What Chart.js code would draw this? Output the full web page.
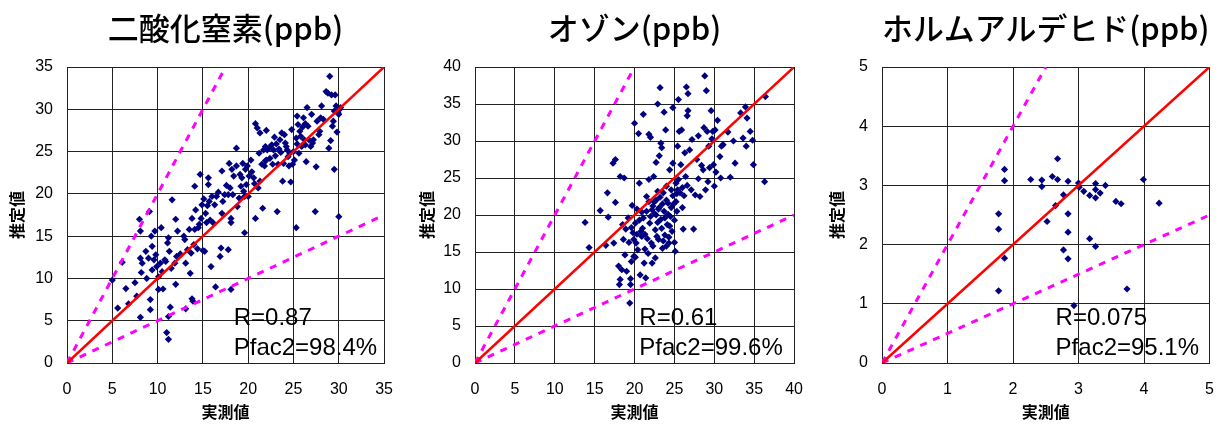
<!DOCTYPE html>
<html>
<head>
<meta charset="utf-8">
<script src="https://cdn.jsdelivr.net/npm/chart.js@4.4.0/dist/chart.umd.min.js"></script>
<style>
  html, body { margin: 0; padding: 0; background: #fff; }
  #wrap { position: relative; width: 1231px; height: 424px; overflow: hidden; }
  canvas { position: absolute; top: 0; }
</style>
</head>
<body>
<div id="wrap">
  <canvas id="no2" width="410" height="424" style="left:0"></canvas>
  <canvas id="o3" width="410" height="424" style="left:410px"></canvas>
  <canvas id="hcho" width="411" height="424" style="left:820px"></canvas>
</div>
<script>
// ---- data (measured x, estimated y) ----
const titles = ['二酸化窒素(ppb)', 'オゾン(ppb)', 'ホルムアルデヒド(ppb)'];
const rText = ['R=0.87', 'R=0.61', 'R=0.075'];
const pfacText = ['Pfac2=98.4%', 'Pfac2=99.6%', 'Pfac2=95.1%'];
const axisMax = [35, 40, 5];
const axisStep = [5, 5, 1];
const statsX = [18.4, 20.6, 2.65];

const no2Points = [
  [5.0,9.8],[5.6,6.5],[6.1,11.9],[6.5,8.8],[6.8,7.0],[7.5,9.5],[7.7,7.9],[8.0,17.0],[8.1,15.6],[8.1,12.4],
  [8.2,10.7],[8.1,5.4],[8.3,11.8],[8.7,13.2],[8.8,10.0],[9.0,12.4],[9.1,17.9],[9.2,7.5],[9.2,6.3],[9.3,15.0],
  [9.4,13.8],[9.4,11.0],[9.6,12.2],[9.7,15.6],[9.9,11.4],[10.1,10.2],[10.1,8.7],[10.3,11.8],[10.4,16.0],[10.5,10.8],
  [10.6,8.75],[10.8,12.2],[11.0,3.6],[11.2,2.8],[11.2,5.5],[11.1,14.2],[11.2,14.8],[11.3,13.2],[11.4,6.6],[11.6,19.3],
  [11.5,11.2],[11.9,11.8],[12.0,9.3],[12.0,17.0],[12.1,12.6],[12.2,15.6],[12.9,15.0],[13.1,11.8],[13.1,6.4],[13.3,13.4],
  [13.5,15.8],[13.6,10.6],[13.7,13.0],[13.8,7.6],[13.8,17.1],[13.9,7.3],[14.0,14.0],[14.1,15.8],[14.1,20.9],[14.2,18.1],
  [14.4,13.5],[14.6,16.4],[14.7,22.3],[14.8,17.1],[14.9,18.7],[15.0,13.3],[15.1,19.4],[15.2,13.2],[15.3,17.7],[15.4,16.6],
  [15.6,21.9],[15.6,21.1],[15.7,19.1],[15.8,16.9],[15.9,11.4],[16.0,19.7],[16.1,16.6],[16.3,18.7],[16.4,9.0],[16.5,19.7],
  [16.9,12.6],[17.0,13.6],[17.1,17.7],[17.1,22.7],[17.2,19.1],[17.4,19.9],[17.8,19.9],[17.8,13.4],[17.9,23.6],[18.0,20.7],
  [18.1,17.1],[18.1,16.6],[18.1,8.7],[18.2,22.9],[18.3,19.9],[18.4,22.1],[18.7,25.4],[18.7,23.3],[18.8,18.5],[19.0,19.5],
  [19.1,22.3],[19.3,21.9],[19.4,23.6],[19.5,20.3],[19.6,15.4],[19.6,19.7],[19.7,22.9],[19.8,21.1],[20.0,19.7],[20.1,22.1],
  [20.3,24.0],[20.6,21.9],[20.8,28.3],[20.8,17.1],[21.0,27.8],[21.1,20.7],[21.3,27.2],[21.3,21.5],[21.5,23.5],[21.6,18.3],
  [21.7,25.2],[21.8,23.3],[21.9,25.6],[22.0,24.0],[22.0,27.5],[22.1,25.2],[22.3,25.4],[22.6,25.8],[22.7,23.5],[22.8,25.2],
  [23.0,24.5],[23.2,17.9],[23.3,23.5],[23.4,25.3],[23.5,26.4],[23.7,27.2],[23.8,21.5],[23.9,23.6],[24.1,26.0],[24.2,25.6],
  [24.4,24.4],[24.5,23.3],[24.6,24.8],[24.7,21.4],[24.8,27.6],[24.9,23.5],[25.0,25.0],[25.1,24.0],[25.3,26.6],[25.3,16.0],
  [25.4,29.2],[25.4,25.9],[25.5,28.2],[25.6,24.8],[25.8,26.8],[25.9,25.6],[26.0,27.9],[26.2,26.4],[26.3,28.3],[26.3,25.8],
  [26.4,23.8],[26.5,30.2],[26.7,26.4],[26.9,25.6],[27.0,29.4],[27.2,26.4],[27.4,17.9],[27.5,23.2],[27.6,28.6],[27.8,27.0],
  [27.9,27.4],[28.1,30.4],[28.3,28.8],[28.6,32.1],[28.8,31.9],[28.9,25.4],[29.0,33.9],[29.1,26.3],[29.2,31.7],[29.3,28.0],
  [29.4,28.6],[29.5,29.8],[29.5,22.9],[29.6,31.7],[29.7,30.4],[29.8,27.3],[29.9,29.6],[30.0,17.3],[30.1,30.0],[30.0,29.4],
  [30.2,30.2],
  [19.2,20.9],[20.4,22.6],[21.2,24.8],[22.4,24.2],[23.1,25.9],[23.6,24.9],[24.3,25.2],[25.7,27.4],[26.6,28.0],[27.1,26.0],
  [20.7,21.2],[21.9,23.9],[16.7,20.2],[17.6,21.0],[12.5,12.9],[10.9,12.0],[9.8,12.8],[13.0,14.6],[14.5,16.0],[15.5,18.6],
  [24.0,27.0],[26.1,29.0],[28.0,29.0],[22.9,26.7],[19.9,23.3]
];

const o3Points = [
  [13.8,19.0],[14.3,15.6],[15.7,20.6],[16.4,15.9],[16.6,23.0],[16.7,19.7],[17.3,27.0],[17.6,27.5],[17.6,21.7],[17.4,16.2],
  [18.0,13.1],[18.1,10.6],[18.2,25.2],[18.2,11.3],[18.4,12.6],[18.5,18.7],[18.6,16.7],[18.7,25.0],[18.8,14.6],[18.9,18.1],
  [19.0,12.4],[19.2,19.6],[19.3,16.3],[19.4,8.1],[19.5,10.6],[19.5,11.4],[19.6,13.7],[19.7,21.3],[19.8,17.6],[19.9,14.4],
  [20.0,32.4],[20.1,18.9],[20.2,16.2],[20.3,20.8],[20.4,15.3],[20.5,31.0],[20.6,24.3],[20.7,11.9],[20.8,17.8],[20.9,17.1],
  [21.1,33.6],[21.1,19.6],[21.2,13.5],[21.3,15.4],[21.4,11.5],[21.5,22.5],[21.6,16.8],[21.8,30.9],[21.8,24.8],[21.9,18.9],
  [22.0,30.5],[22.2,13.5],[22.2,20.7],[22.3,15.8],[22.4,25.2],[22.5,21.8],[22.6,18.0],[22.7,27.1],[22.7,20.0],[22.9,35.0],
  [22.9,23.2],[23.0,16.7],[23.1,21.0],[23.1,28.0],[23.2,37.2],[23.3,29.7],[23.3,19.4],[23.4,29.1],[23.5,15.5],[23.6,23.0],
  [23.7,33.9],[23.7,20.5],[23.8,17.3],[23.9,31.5],[24.0,23.9],[24.1,18.7],[24.2,21.6],[24.3,16.2],[24.4,26.1],[24.5,19.8],
  [24.6,23.4],[24.7,17.8],[24.8,34.5],[24.8,27.0],[24.9,21.5],[25.0,16.3],[25.1,15.1],[25.2,24.3],[25.3,20.5],[25.4,29.3],
  [25.5,35.6],[25.6,31.3],[25.7,23.0],[25.8,26.8],[25.9,31.5],[26.0,23.7],[26.1,18.1],[26.3,28.4],[26.4,25.2],[26.5,37.3],
  [26.6,33.4],[26.7,34.1],[26.7,36.4],[26.9,28.8],[27.1,23.4],[27.2,30.2],[27.4,18.1],[27.6,22.7],[27.8,27.5],[28.0,30.7],
  [28.0,24.9],[28.2,22.5],[28.4,26.7],[28.6,26.1],[28.7,31.8],[28.8,38.8],[28.9,23.4],[29.0,36.8],[29.1,31.3],[29.2,24.5],
  [29.3,29.3],[29.4,26.4],[29.6,34.1],[29.7,30.3],[29.8,31.3],[29.9,26.8],[30.0,23.9],[30.1,31.5],[30.2,25.8],[30.4,32.8],
  [30.7,27.9],[30.8,25.0],[30.9,29.3],[31.1,29.5],[31.7,31.2],[32.0,25.1],[32.4,30.0],[32.6,27.0],[33.3,33.8],[33.6,30.4],
  [33.9,34.6],[34.0,29.3],[34.1,33.1],[34.5,31.3],[34.8,30.1],[34.9,26.8],[36.3,24.5],[36.4,36.0],
  [21.5,20.5],[21.8,21.8],[22.0,19.8],[22.3,21.2],[22.5,20.2],[22.7,22.0],[22.9,19.0],[23.0,20.8],[23.2,22.4],[23.4,18.2],
  [23.5,21.5],[23.8,19.6],[24.0,22.0],[24.2,20.1],[24.4,18.5],[24.6,21.0],[24.8,22.6],[25.0,19.3],[25.2,21.8],[25.4,23.4],
  [21.0,18.2],[20.6,19.3],[20.9,20.4],[21.3,17.4],[22.1,16.2],[22.8,17.1],[23.6,16.5],[24.3,17.0],[25.5,24.8],[26.2,22.6],
  [26.6,24.0],[20.3,17.4],[19.6,18.3],[19.9,16.7],[20.1,14.3],[21.7,14.8],[22.6,14.2],[24.0,15.8],[25.3,22.9],[26.0,21.0]
];

const hchoPoints = [
  [1.78,2.52],[1.78,2.26],[1.78,1.22],[1.87,3.27],[1.87,3.08],[1.87,1.77],[2.27,3.10],[2.44,3.09],[2.44,2.98],[2.52,2.39],
  [2.60,3.15],[2.65,2.66],[2.68,3.45],[2.68,3.10],[2.77,2.84],[2.77,1.91],[2.84,3.07],[2.84,2.52],[2.84,2.21],[2.84,1.76],
  [2.93,0.97],[3.00,3.04],[3.01,2.97],[3.08,2.90],[3.17,2.83],[3.17,2.10],[3.26,3.03],[3.26,2.93],[3.26,2.79],[3.26,1.97],
  [3.33,2.87],[3.41,3.00],[3.57,2.73],[3.65,2.69],[3.74,1.25],[3.99,3.10],[4.23,2.70]
];

// left edge of plot area and right padding inside each canvas
const yAxisWidth = [67, 65, 62];
const rightPad = [16, 18, 7];

const FONT = '"Liberation Sans", Arial, sans-serif';
const JP = '"Noto Sans CJK JP", "Noto Sans", sans-serif';

// R / Pfac2 text inside the plot
const statsText = {
  id: 'statsText',
  afterDatasetsDraw(chart, args, o) {
    const { ctx, chartArea, scales } = chart;
    const x = scales.x.getPixelForValue(o.x);
    ctx.save();
    ctx.font = '24px ' + FONT;
    ctx.fillStyle = '#000';
    ctx.textBaseline = 'alphabetic';
    ctx.fillText(o.r, x, chartArea.bottom - 38);
    ctx.fillText(o.p, x, chartArea.bottom - 8);
    ctx.restore();
  }
};

function makePanel(id, i, points) {
  const max = axisMax[i];
  const gridOpts = { color: '#222', lineWidth: 1, drawTicks: false };
  new Chart(document.getElementById(id), {
    type: 'scatter',
    data: {
      datasets: [
        {
          type: 'line',
          data: [{ x: 0, y: 0 }, { x: max, y: max }],
          borderColor: '#ff0000', borderWidth: 2.6,
          pointRadius: 0, fill: false
        },
        {
          type: 'line',
          data: [{ x: 0, y: 0 }, { x: max / 2, y: max }],
          borderColor: '#ff00ff', borderWidth: 3, borderDash: [7, 7],
          pointRadius: 0, fill: false
        },
        {
          type: 'line',
          data: [{ x: 0, y: 0 }, { x: max, y: max / 2 }],
          borderColor: '#ff00ff', borderWidth: 3, borderDash: [7, 7],
          pointRadius: 0, fill: false
        },
        {
          data: points.map(p => ({ x: p[0], y: p[1] })),
          pointStyle: 'rectRot',
          pointRadius: 3.6,
          backgroundColor: '#000080',
          borderColor: '#000080',
          borderWidth: 0
        }
      ]
    },
    options: {
      responsive: false,
      animation: false,
      events: [],
      layout: { padding: { left: 0, right: rightPad[i], top: 0, bottom: 0 } },
      plugins: {
        legend: { display: false },
        tooltip: { enabled: false },
        title: {
          display: true,
          text: titles[i],
          fullSize: false,
          color: '#000',
          font: { family: JP, size: 31, weight: '500', lineHeight: 1 },
          padding: { top: 13, bottom: 23 }
        },
        statsText: { x: statsX[i], r: rText[i], p: pfacText[i] }
      },
      scales: {
        x: {
          type: 'linear', min: 0, max: max,
          grid: gridOpts,
          border: { color: '#222' },
          ticks: { stepSize: axisStep[i], color: '#000', padding: 17, font: { family: FONT, size: 16 } },
          title: {
            display: true, text: '実測値', color: '#000',
            font: { family: JP, size: 16, weight: 'bold', lineHeight: 1.2 },
            padding: { top: 0, bottom: 2 }
          },
          afterFit: s => { s.height = 61; }
        },
        y: {
          type: 'linear', min: 0, max: max,
          grid: gridOpts,
          border: { color: '#222' },
          ticks: { stepSize: axisStep[i], color: '#000', padding: 14, font: { family: FONT, size: 16 } },
          title: {
            display: true, text: '推定値', color: '#000',
            font: { family: JP, size: 16, weight: 'bold', lineHeight: 1.2 },
            padding: { top: 7, bottom: 0 }
          },
          afterFit: s => { s.width = yAxisWidth[i]; }
        }
      }
    },
    plugins: [statsText]
  });
}

makePanel('no2', 0, no2Points);
makePanel('o3', 1, o3Points);
makePanel('hcho', 2, hchoPoints);
</script>
</body>
</html>
